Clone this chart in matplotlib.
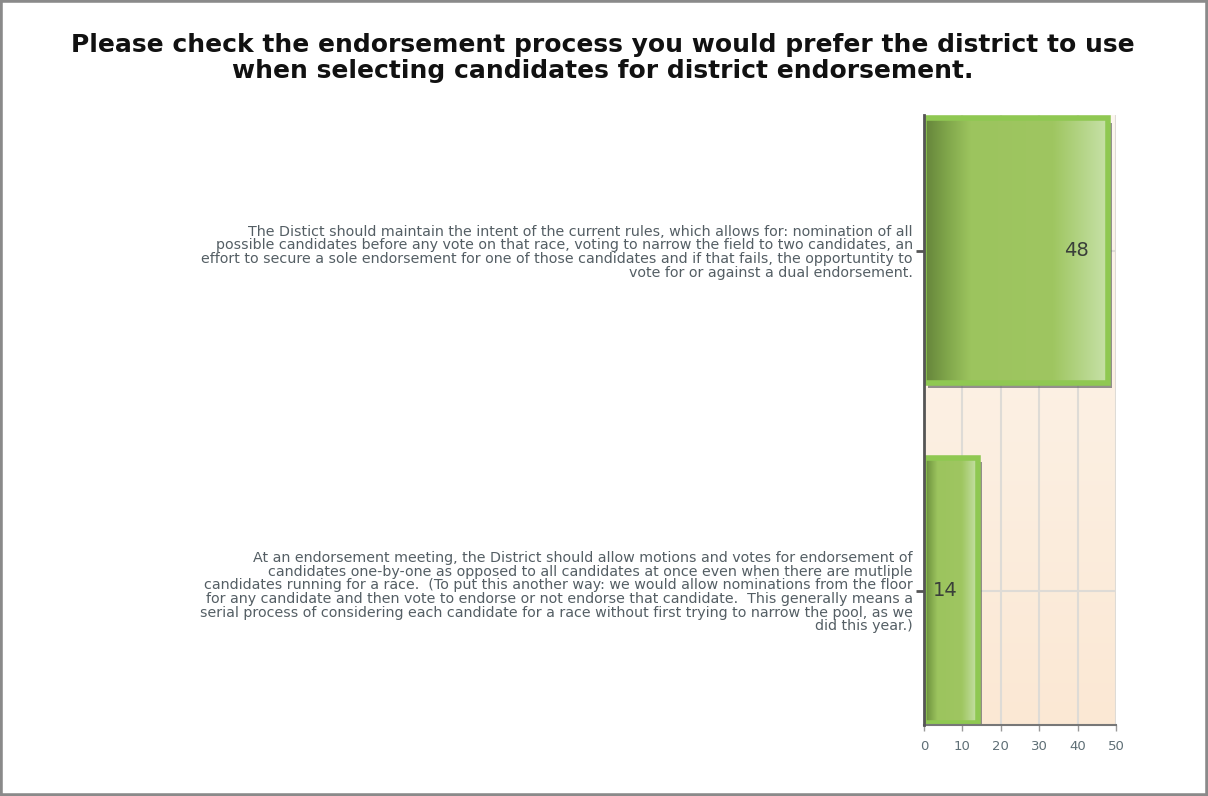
import numpy as np
import matplotlib.pyplot as plt
import matplotlib.patheffects as pe
from matplotlib.colors import LinearSegmentedColormap
from matplotlib.patches import Rectangle

title = ("Please check the endorsement process you would prefer the district to use\n"
         "when selecting candidates for district endorsement.")
options = [
    "The Distict should maintain the intent of the current rules, which allows for: nomination of all\n"
    "possible candidates before any vote on that race, voting to narrow the field to two candidates, an\n"
    "effort to secure a sole endorsement for one of those candidates and if that fails, the opportuntity to\n"
    "vote for or against a dual endorsement.",
    "At an endorsement meeting, the District should allow motions and votes for endorsement of\n"
    "candidates one-by-one as opposed to all candidates at once even when there are mutliple\n"
    "candidates running for a race.  (To put this another way: we would allow nominations from the floor\n"
    "for any candidate and then vote to endorse or not endorse that candidate.  This generally means a\n"
    "serial process of considering each candidate for a race without first trying to narrow the pool, as we\n"
    "did this year.)",
]
counts = [48, 14]
x_ticks = [0, 10, 20, 30, 40, 50]

bg_cmap = LinearSegmentedColormap.from_list("bg", ["#fbe8d4", "#fdf7f0"])
bar_cmap = LinearSegmentedColormap.from_list(
    "bar", [(0, "#64833a"), (0.12, "#7fa54a"), (0.25, "#9cc45e"),
            (0.7, "#9fc661"), (1, "#c8e2aa")])

fig = plt.figure(figsize=(12.08, 7.96), dpi=100)
ax = fig.add_axes([924 / 1208, 71 / 796, 192 / 1208, 610 / 796])

# background gradient of the plot area
ax.imshow(np.linspace(0, 1, 256).reshape(-1, 1), extent=[0, 1, 0, 1], transform=ax.transAxes,
          cmap=bg_cmap, aspect="auto", zorder=0, origin="lower")
ax.set_axisbelow(True)
ax.grid(color="#dedbd6", lw=1.5)

pos = np.arange(len(counts))
bars = ax.barh(pos, counts, height=0.78, color="#9cc45e", edgecolor="none", zorder=2,
               path_effects=[pe.SimplePatchShadow(offset=(3, -3), shadow_rgbFace="#666", alpha=0.7),
                             pe.Normal()])
grad = np.linspace(0, 1, 256).reshape(1, -1)
for b in bars:
    x0, y0, w, h = b.get_x(), b.get_y(), b.get_width(), b.get_height()
    im = ax.imshow(grad, extent=[x0, x0 + w, y0 + h, y0], cmap=bar_cmap, aspect="auto", zorder=2.1)
    im.set_clip_path(b)
ax.barh(pos, counts, height=0.78, fill=False, edgecolor="#8fc852", linewidth=4, zorder=2.2)
ax.bar_label(bars, labels=[str(c) for c in counts], padding=-32, fontsize=14, color="#3a3f3a", zorder=3)

ax.set_xlim(0, 50)
ax.set_ylim(1.395, -0.4)
ax.set_xticks(x_ticks)
ax.set_yticks(pos, options, fontsize=10.3, color="#545e64", linespacing=0.97)
ax.tick_params(axis="y", length=6, width=2, color="#555555", pad=2)
ax.tick_params(axis="x", length=4, width=1, color="#999999", labelsize=9.5, labelcolor="#5f6f76", pad=7)
for s in ["top", "right"]:
    ax.spines[s].set_visible(False)
ax.spines["left"].set_color("#555555")
ax.spines["left"].set_linewidth(2)
ax.spines["left"].set_zorder(3)
ax.spines["bottom"].set_color("#777777")
ax.spines["bottom"].set_linewidth(1.5)

fig.text(603 / 1208, 1 - 58 / 796, title, ha="center", va="center", fontsize=18,
         fontweight="bold", color="#111111", linespacing=1.12)

fig.patches.append(Rectangle((0, 0), 1, 1, transform=fig.transFigure, fill=False,
                             edgecolor="#8a8a8a", linewidth=4))

fig.savefig("out.png", dpi=100)
